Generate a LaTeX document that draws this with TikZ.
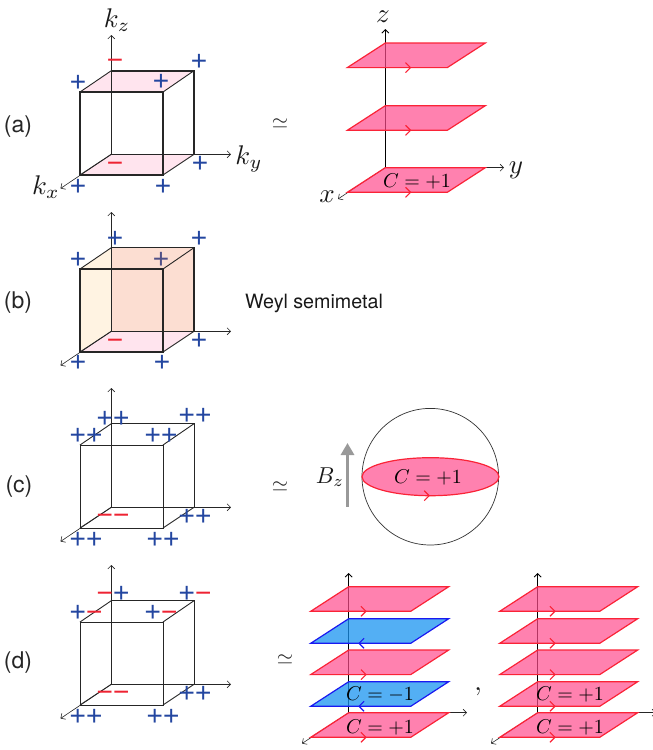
\documentclass[tikz,border=0pt]{standalone}
\usepackage[no-math]{fontspec}
\newfontfamily\hv{TeX Gyre Heros}
\newfontfamily\sgf{Liberation Sans}
\usetikzlibrary{arrows.meta}
\definecolor{sblue}{RGB}{35,70,160}
\definecolor{sred}{RGB}{238,35,50}
\definecolor{sdim}{RGB}{80,80,135}
\definecolor{pfill}{RGB}{255,76,141}
\definecolor{pline}{RGB}{250,35,55}
\definecolor{bfill}{RGB}{25,148,240}
\definecolor{bline}{RGB}{25,25,240}
\definecolor{lpink}{RGB}{255,228,238}
\definecolor{cream}{RGB}{255,243,226}
\definecolor{peach}{RGB}{252,222,210}
\tikzset{
  x=1pt,y=-1pt,
  axis/.style={line width=0.6pt,black!85,-{Straight Barb[length=3.5pt,width=7pt]}},
  sgn/.style={inner sep=0pt,outer sep=0pt,text height=19.6pt,text depth=0pt,font=\sgf\fontsize{28}{28}\selectfont},
  lab/.style={inner sep=0pt,font=\hv\fontsize{23}{25}\selectfont,text=black!85},
  mth/.style={inner sep=0pt,scale=2.7,text=black!90},
  sim/.style={inner sep=0pt,scale=2.1,text=black!85},
  cee/.style={inner sep=0pt,scale=2,text=black},
  redplane/.style={draw=pline,fill=pfill,fill opacity=0.7,line width=1.2pt,line join=miter},
  blueplane/.style={draw=bline,fill=bfill,fill opacity=0.75,line width=1.2pt,line join=miter},
  barb/.style={line width=1.1pt,-{Straight Barb[length=5pt,width=10pt]}},
}
\newcommand\pl{\textcolor{sblue}{+}}
\newcommand\mn{\textcolor{sred}{\char"2212}}
\newcommand\axesk{%
  \coordinate (o) at (111.3,154.3);
  \coordinate (zt) at (111.3,35);
  \coordinate (yt) at (231,154.3);
  \coordinate (xt) at (60.5,188.5);
  \draw[axis] (o) -- (zt);
  \draw[axis] (o) -- (yt);
  \draw[axis] (o) -- (xt);}
\newcommand\cubek[2]{%
  \draw[line width=#1,black!85] (111.3,70.7) -- (80,92) (194,70.7) -- (163,92) (194,154.3) -- (163,175) (111.3,154.3) -- (80,175);
  \draw[line width=#2,black!85,line join=miter] (80,175) rectangle (163,92);
  \draw[line width=#2,black!85] (111.3,70.7) -- (194,70.7) -- (194,154.3);}
\newcommand\plane[4]{% x, y back, style, colour
  \draw[#3] (#1,#2) -- ++(100,0) -- ++(-38,24.6) -- ++(-100,0) -- cycle;}
\newcommand\rp[3]{\plane{#1}{#2}{redplane}{}\draw[barb,pline] (#1+#3-8,#2+24.6) -- (#1+#3,#2+24.6);}
\newcommand\bp[2]{\plane{#1}{#2}{blueplane}{}\draw[barb,bline] (#1+17,#2+24.6) -- (#1+9.6,#2+24.6);}
\begin{document}
\begin{tikzpicture}
\useasboundingbox (0,0) rectangle (653,750);
\clip (0,0) rectangle (653,750);
% (a)
\fill[lpink] (111.3,70.7) -- (194,70.7) -- (163,92) -- (80,92) -- cycle;
\fill[lpink] (111.3,154.3) -- (194,154.3) -- (163,175) -- (80,175) -- cycle;
\axesk
\cubek{0.9pt}{1.7pt}
\node[lab] (la) at (18,127) {(a)};
\node[mth] (kz) at (117,20) {$k_z$};
\node[mth] (ky) at (249,159) {$k_y$};
\node[mth] (kx) at (46,187) {$k_x$};
\node[sgn] (a1) at (115,60) {\mn};
\node[sgn] (a2) at (78,82) {\pl};
\node[sgn] (a3) at (199,61) {\pl};
\node[sgn] (a4) at (161,81) {\pl};
\node[sgn] (a5) at (115,163) {\mn};
\node[sgn] (a6) at (200,163) {\pl};
\node[sgn] (a7) at (78,186) {\pl};
\node[sgn] (a8) at (163,186) {\pl};
\node[sim] (sa) at (280,124) {$\simeq$};
% (a) right
\draw[line width=0.9pt,black,-{Straight Barb[length=3.5pt,width=7pt]}] (385.3,167.7) -- (385.3,29);
\draw[axis] (385.3,167.7) -- (504,167.7);
\draw[axis] (385.3,167.7) -- (338,199);
\rp{385.3}{43}{26}
\rp{385.3}{105.7}{26}
\rp{385.3}{167.7}{26}
\node[mth] (zl) at (383,17) {$z$};
\node[mth] (yl) at (516,170) {$y$};
\node[mth] (xl) at (327,197) {$x$};
\node[cee] (ca) at (417,181) {$C=+1$};
% (b)
\begin{scope}[shift={(0,177)}]
\fill[cream] (80,92) -- (111.3,70.7) -- (111.3,154.3) -- (80,175) -- cycle;
\fill[peach] (111.3,70.7) rectangle (194,154.3);
\fill[lpink] (111.3,154.3) -- (194,154.3) -- (163,175) -- (80,175) -- cycle;
\axesk
\cubek{0.9pt}{1.5pt}
\node[lab] (lb) at (18,126) {(b)};
\node[sgn] (b1) at (115,61) {\pl};
\node[sgn] (b2) at (78,82) {\pl};
\node[sgn] (b3) at (199,61) {\pl};
\node[sgn] (b4) at (161,82) {\textcolor{sdim}{+}};
\node[sgn] (b5) at (115,163) {\mn};
\node[sgn] (b6) at (199,163) {\pl};
\node[sgn] (b7) at (78,185) {\pl};
\node[sgn] (b8) at (162,185) {\pl};
\end{scope}
\node[inner sep=0pt,font=\hv\fontsize{19.7}{22}\selectfont,anchor=west,text=black!90] (wm) at (245,303) {Weyl semimetal};
% (c)
\begin{scope}[shift={(0,353)}]
\axesk
\cubek{0.9pt}{1pt}
\node[lab] (lc) at (19,134) {(c)};
\node[sgn] (c1) at (113,65) {\pl\pl};
\node[sgn] (c2) at (195,62) {\pl\pl};
\node[sgn] (c3) at (86,82) {\pl\pl};
\node[sgn] (c4) at (161,82) {\pl\pl};
\node[sgn] (c5) at (113,162) {\mn\mn};
\node[sgn] (c6) at (195,163) {\pl\pl};
\node[sgn] (c7) at (86,186) {\pl\pl};
\node[sgn] (c8) at (163,186) {\pl\pl};
\node[sim] (sc) at (280,134) {$\simeq$};
\end{scope}
% (c) right
\draw[line width=0.7pt,black!80] (430.3,476.7) circle (68.3);
\draw[redplane] (430.5,476.7) ellipse (68.5 and 19);
\draw[barb,pline] (421,495.7) -- (430,495.7);
\node[cee] (cc) at (428,477) {$C=+1$};
\node[mth,scale=2.3/2.7] (bz) at (330,477) {$B_z$};
\draw[draw=black!40,line width=3.3pt,-{Triangle[length=12pt,width=13pt]}] (347.5,506.7) -- (347.5,443);
% (d)
\begin{scope}[shift={(0,530)}]
\axesk
\cubek{0.9pt}{1pt}
\node[lab] (ld) at (18,133) {(d)};
\node[sgn] (d1) at (113,63) {\mn\pl};
\node[sgn] (d2) at (195,63) {\pl\mn};
\node[sgn] (d3) at (86,82) {\pl\mn};
\node[sgn] (d4) at (161,82) {\pl\mn};
\node[sgn] (d5) at (113,162) {\mn\mn};
\node[sgn] (d6) at (195,163) {\pl\pl};
\node[sgn] (d7) at (86,186) {\pl\pl};
\node[sgn] (d8) at (163,186) {\pl\pl};
\node[sim] (sd) at (285,130) {$\simeq$};
\end{scope}
% (d) left stack
\draw[line width=0.9pt,black,-{Straight Barb[length=3.5pt,width=7pt]}] (348.7,712.7) -- (348.7,573);
\draw[axis] (348.7,712.7) -- (467,712.7);
\draw[axis] (348.7,712.7) -- (302,743.5);
\rp{348.7}{586.7}{18}
\bp{348.7}{618.7}
\rp{348.7}{650}{18}
\bp{348.7}{681.7}
\rp{348.7}{712.7}{18}
\node[cee] (c21) at (380,694) {$C=-1$};
\node[cee] (c22) at (380,727) {$C=+1$};
\node[mth] (cm) at (478,692) {$,$};
% (d) right stack
\draw[line width=0.9pt,black,-{Straight Barb[length=3.5pt,width=7pt]}] (537.7,712.7) -- (537.7,573);
\draw[axis] (537.7,712.7) -- (656,712.7);
\draw[axis] (537.7,712.7) -- (491,743.5);
\rp{537.7}{586.7}{18}
\rp{537.7}{618.7}{18}
\rp{537.7}{650}{18}
\rp{537.7}{681.7}{18}
\rp{537.7}{712.7}{18}
\node[cee] (c31) at (570,694) {$C=+1$};
\node[cee] (c32) at (570,727) {$C=+1$};
\end{tikzpicture}
\end{document}
